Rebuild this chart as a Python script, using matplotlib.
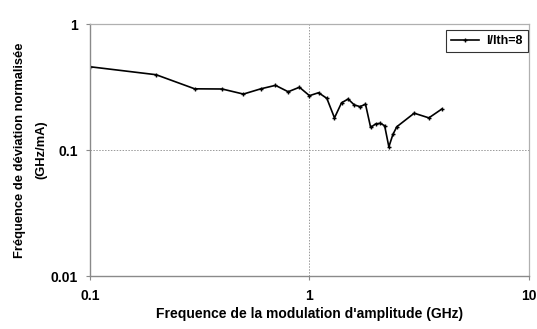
import matplotlib
matplotlib.use('Agg')
import matplotlib.pyplot as plt
from matplotlib.ticker import FixedLocator, FixedFormatter, NullLocator

plt.rcParams['font.family'] = ['Liberation Sans', 'DejaVu Sans']
plt.rcParams['font.weight'] = 'bold'

freq_ghz = [0.1, 0.2, 0.3, 0.4, 0.5, 0.6, 0.7, 0.8, 0.9, 1.0, 1.1, 1.2, 1.3,
            1.4, 1.5, 1.6, 1.7, 1.8, 1.9, 2.0, 2.1, 2.2, 2.3, 2.4, 2.5, 3.0,
            3.5, 4.0]
deviation = [0.458, 0.396, 0.306, 0.305, 0.278, 0.306, 0.326, 0.290, 0.315,
             0.270, 0.285, 0.257, 0.180, 0.237, 0.254, 0.228, 0.221, 0.231,
             0.151, 0.161, 0.163, 0.156, 0.106, 0.133, 0.153, 0.196, 0.180,
             0.211]
series_label = 'I/Ith=8'
x_ticks = [0.1, 1, 10]
x_tick_labels = ['0.1', '1', '10']
y_ticks = [0.01, 0.1, 1]
y_tick_labels = ['0.01', '0.1', '1']

fig = plt.figure(figsize=(5.37, 3.29), dpi=100)
ax = fig.add_axes([0.1676, 0.161, 0.8174, 0.766])

ax.plot(freq_ghz, deviation, color='black', linewidth=1.2, marker='+',
        markersize=3.5, markeredgewidth=1.0, label=series_label)

ax.set_xscale('log')
ax.set_yscale('log')
ax.set_xlim(0.1, 10)
ax.set_ylim(0.01, 1)

ax.xaxis.set_major_locator(FixedLocator(x_ticks))
ax.xaxis.set_major_formatter(FixedFormatter(x_tick_labels))
ax.xaxis.set_minor_locator(NullLocator())
ax.yaxis.set_major_locator(FixedLocator(y_ticks))
ax.yaxis.set_major_formatter(FixedFormatter(y_tick_labels))
ax.yaxis.set_minor_locator(NullLocator())

ax.grid(True, which='major', color='#999999', linestyle=(0, (1.5, 1.5)),
        linewidth=0.7)

for side in ['top', 'right']:
    ax.spines[side].set_color('#b0b0b0')
    ax.spines[side].set_linewidth(0.9)
for side in ['left', 'bottom']:
    ax.spines[side].set_color('#8a8a8a')
    ax.spines[side].set_linewidth(1.0)

ax.tick_params(axis='both', length=3, width=0.8, color='#8a8a8a',
               labelsize=10, pad=6)

ax.set_xlabel("Frequence de la modulation d'amplitude (GHz)", fontsize=10,
              fontweight='bold', labelpad=3)
ax.set_ylabel('Fréquence de déviation normalisée\n(GHz/mA)', fontsize=9.3,
              fontweight='bold', labelpad=2, linespacing=2.0)

leg = ax.legend(loc='upper right', bbox_to_anchor=(0.997, 0.975),
                frameon=True, fancybox=False,
                handlelength=2.2, handletextpad=0.6, borderpad=0.4,
                borderaxespad=0.0,
                prop={'weight': 'bold', 'size': 9})
leg.get_frame().set_edgecolor('black')
leg.get_frame().set_linewidth(0.8)

fig.savefig('out.png', dpi=100)
